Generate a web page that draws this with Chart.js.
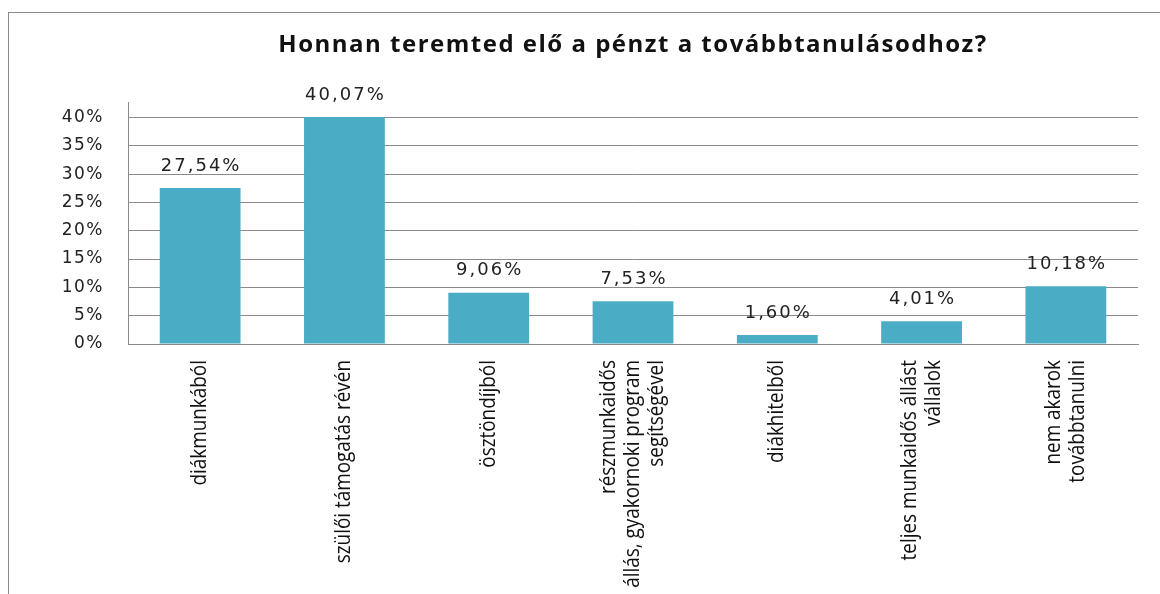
<!DOCTYPE html>
<html>
<head>
<meta charset="utf-8">
<script src="https://cdn.jsdelivr.net/npm/chart.js@4"></script>
<style>
  body { margin: 0; background: #fff; }
  #wrap { position: relative; width: 1160px; height: 594px; }
  #frame { position: absolute; left: 8px; top: 12px; right: -2px; bottom: -2px; border-left: 1px solid #8a8a8a; border-top: 1px solid #8a8a8a; }
  canvas { position: absolute; left: 0; top: 0; }
</style>
</head>
<body>
<div id="wrap">
  <div id="frame"></div>
  <canvas id="myChart" width="1160" height="594"></canvas>
</div>
<script>
const categories = [
  ['diákmunkából'],
  ['szülői támogatás révén'],
  ['ösztöndíjból'],
  ['részmunkaidős', 'állás, gyakornoki program', 'segítségével'],
  ['diákhitelből'],
  ['teljes munkaidős állást', 'vállalok'],
  ['nem akarok', 'továbbtanulni']
];
const shares = [27.54, 40.07, 9.06, 7.53, 1.60, 4.01, 10.18];
const yTicks = [0, 5, 10, 15, 20, 25, 30, 35, 40];
const chartTitle = 'Honnan teremted elő a pénzt a továbbtanulásodhoz?';

const barColor = '#4bacc6';
const gridColor = '#8a8a8a';

// the old excel export has spaced-out glyphs everywhere
const spacing = {
  id: 'spacing',
  beforeDraw(chart) { chart.ctx.letterSpacing = '1.5px'; },
  afterDraw(chart) { chart.ctx.letterSpacing = '0px'; }
};

// value labels above the bars, hungarian decimal comma
const valueLabels = {
  id: 'valueLabels',
  afterDatasetsDraw(chart) {
    const ctx = chart.ctx;
    const meta = chart.getDatasetMeta(0);
    ctx.save();
    ctx.font = '18px "DejaVu Sans"';
    ctx.fillStyle = '#222';
    ctx.textAlign = 'center';
    ctx.textBaseline = 'middle';
    ctx.letterSpacing = '2px';
    meta.data.forEach((bar, i) => {
      const txt = shares[i].toFixed(2).replace('.', ',') + '%';
      ctx.fillText(txt, bar.x + 1, bar.y - 22);
    });
    ctx.restore();
  }
};

// rotated category labels, centred on each tick
const catLabels = {
  id: 'catLabels',
  afterDraw(chart) {
    const ctx = chart.ctx;
    const xs = chart.scales.x;
    const lineH = 24;
    ctx.save();
    ctx.letterSpacing = '0px';
    ctx.font = '21px "Open Sans"';
    ctx.fillStyle = '#111';
    ctx.textAlign = 'right';
    ctx.textBaseline = 'middle';
    categories.forEach((lines, i) => {
      const x = xs.getPixelForTick(i);
      const y = chart.chartArea.bottom + 16;
      ctx.save();
      ctx.translate(x, y);
      ctx.rotate(-Math.PI / 2);
      ctx.scale(0.9, 1);
      lines.forEach((ln, j) => {
        ctx.fillText(ln, 0, (j - (lines.length - 1) / 2) * lineH);
      });
      ctx.restore();
    });
    ctx.restore();
  }
};

new Chart(document.getElementById('myChart'), {
  type: 'bar',
  data: {
    labels: categories.map(c => c.join(' ')),
    datasets: [{
      data: shares,
      backgroundColor: barColor,
      barPercentage: 0.56,
      categoryPercentage: 1
    }]
  },
  options: {
    responsive: false,
    animation: false,
    devicePixelRatio: 1,
    layout: { padding: { left: 0, top: 12, right: 22, bottom: 0 } },
    plugins: {
      legend: { display: false },
      tooltip: { enabled: false },
      title: {
        display: true,
        text: chartTitle,
        fullSize: false,
        color: '#111',
        font: { family: 'Open Sans', size: 24, weight: 'bold' },
        padding: { top: 19, bottom: 43 }
      }
    },
    scales: {
      x: {
        grid: { display: false },
        border: { display: true, color: gridColor },
        ticks: { display: false },
        afterFit(scale) { scale.height = 250; }
      },
      y: {
        min: 0,
        max: 42.6,
        grid: { color: gridColor, drawTicks: false },
        border: { display: true, color: gridColor },
        afterBuildTicks(scale) { scale.ticks = yTicks.map(v => ({ value: v })); },
        ticks: {
          padding: 24,
          color: '#222',
          font: { family: 'DejaVu Sans', size: 17 },
          callback: v => v + '%'
        },
        afterFit(scale) { scale.width = 128; }
      }
    }
  },
  plugins: [spacing, valueLabels, catLabels]
});
</script>
</body>
</html>
